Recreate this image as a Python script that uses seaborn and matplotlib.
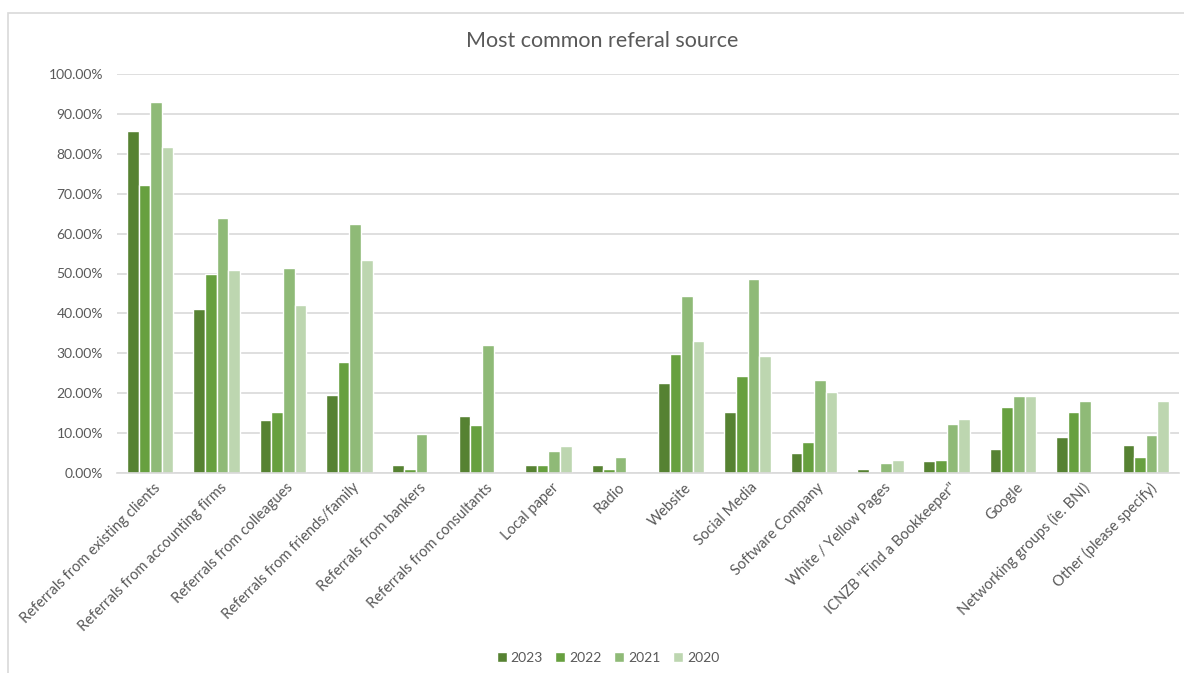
import matplotlib
matplotlib.use("Agg")
import matplotlib.pyplot as plt
from matplotlib.patches import Rectangle
from matplotlib.ticker import FuncFormatter
from matplotlib.transforms import ScaledTranslation
import seaborn as sns
import pandas as pd

# Referral sources surveyed
sources = [
    "Referrals from existing clients",
    "Referrals from accounting firms",
    "Referrals from colleagues",
    "Referrals from friends/family",
    "Referrals from bankers",
    "Referrals from consultants",
    "Local paper",
    "Radio",
    "Website",
    "Social Media",
    "Software Company",
    "White / Yellow Pages",
    "ICNZB \"Find a Bookkeeper\"",
    "Google",
    "Networking groups (ie. BNI)",
    "Other (please specify)",
]

years = ["2023", "2022", "2021", "2020"]

# Share of respondents (%) per survey year
share_2023 = [85.7, 41.1, 13.3, 19.6, 2.0, 14.3, 2.0, 2.0, 22.5, 15.3, 5.0, 1.0, 3.0, 5.9, 9.0, 7.0]
share_2022 = [72.2, 49.9, 15.4, 27.7, 1.0, 12.0, 2.0, 1.0, 29.9, 24.3, 7.8, 0.0, 3.2, 16.5, 15.3, 4.1]
share_2021 = [93.0, 63.9, 51.3, 62.5, 9.8, 32.0, 5.5, 4.0, 44.4, 48.6, 23.4, 2.6, 12.4, 19.4, 18.0, 9.6]
share_2020 = [81.7, 50.9, 42.1, 53.4, 0.0, 0.0, 6.7, 0.0, 33.0, 29.4, 20.4, 3.3, 13.5, 19.2, 0.0, 18.0]

colors = ["#568232", "#67a03f", "#8fba77", "#bdd6b0"]

rows = []
for yr, vals in zip(years, [share_2023, share_2022, share_2021, share_2020]):
    for src, v in zip(sources, vals):
        rows.append({"source": src, "year": yr, "share": v / 100.0})
df = pd.DataFrame(rows)

sns.set_theme(style="white")
plt.rcParams["font.family"] = ["Lato", "DejaVu Sans"]

W, H = 1184, 673
fig = plt.figure(figsize=(W / 100, H / 100), dpi=100)
ax = fig.add_axes([117 / W, 1 - 473 / H, (1179 - 117) / W, (473 - 74) / H])

sns.barplot(
    data=df, x="source", y="share", hue="year", hue_order=years,
    order=sources, palette=colors, width=0.7, ax=ax,
    edgecolor="white", linewidth=1.0, saturation=1, legend=True,
)

ax.set_ylim(0, 1.0)
ax.set_xlim(-0.5, len(sources) - 0.5)
ax.set_yticks([i / 10 for i in range(11)])
ax.yaxis.set_major_formatter(FuncFormatter(lambda v, p: f"{v * 100:.2f}%"))
ax.grid(axis="y", color="#d9d9d9", linewidth=1.2)
ax.set_axisbelow(True)
for s in ["top", "right", "left"]:
    ax.spines[s].set_visible(False)
ax.spines["bottom"].set_color("#d9d9d9")
ax.spines["bottom"].set_linewidth(1.2)
ax.set_xlabel("")
ax.set_ylabel("")
ax.tick_params(axis="y", length=0, pad=10, labelsize=10, labelcolor="#595959")
ax.tick_params(axis="x", length=0, pad=4, labelsize=10.5, labelcolor="#595959")
ax.set_xticks(range(len(sources)))
ax.set_xticklabels(sources, rotation=45, ha="right", rotation_mode="anchor")
# nudge rotated labels so their end sits just under the tick
off = ScaledTranslation(3 / 100, -2 / 100, fig.dpi_scale_trans)
for lbl in ax.get_xticklabels():
    lbl.set_transform(lbl.get_transform() + off)

fig.text(602 / W, 1 - 41 / H, "Most common referal source", ha="center", va="center",
         fontsize=15.5, color="#595959")

leg = ax.legend(
    loc="center", bbox_to_anchor=(608 / W, 1 - 658 / H), bbox_transform=fig.transFigure,
    ncol=4, frameon=False, fontsize=10, handlelength=0.7, handleheight=0.7,
    handletextpad=0.3, columnspacing=0.9, labelcolor="#595959",
)

# chart frame
fig.patches.append(Rectangle((8 / W, -0.05), 1.1, 1 - 13 / H + 0.05, transform=fig.transFigure,
                             fill=False, edgecolor="#d9d9d9", linewidth=1.2))

fig.savefig("out.png", dpi=100, facecolor="white")
